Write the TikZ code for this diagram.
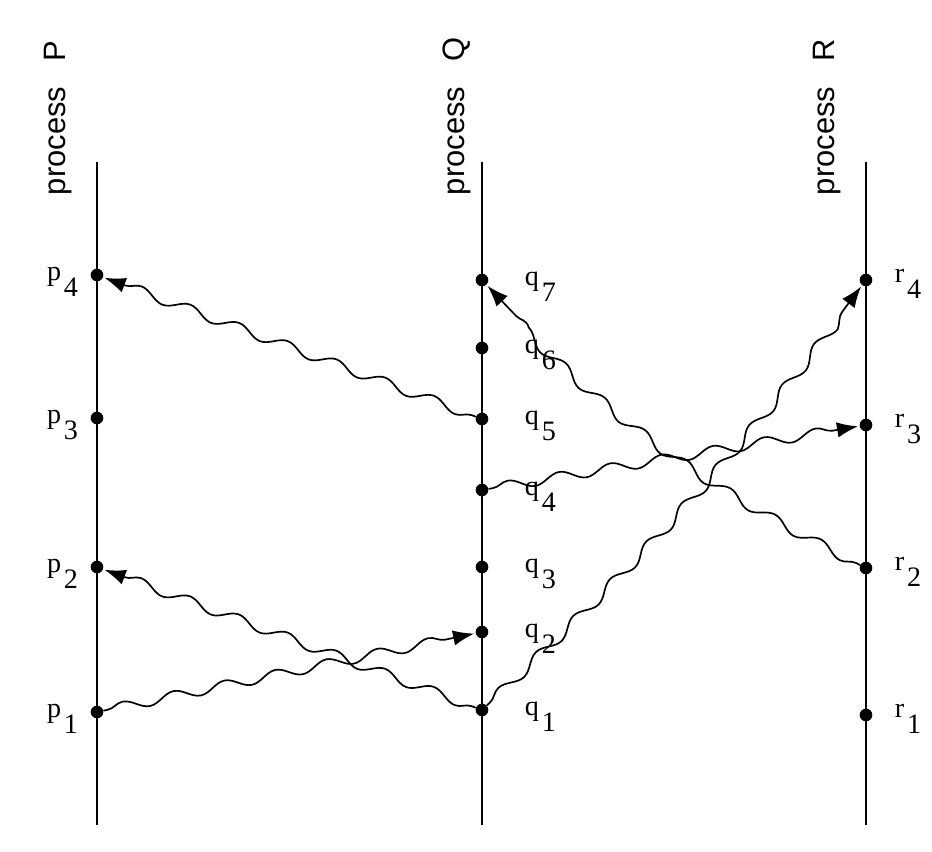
\documentclass[tikz,border=0pt]{standalone}
\usepackage{fontspec}
\setmainfont{Liberation Serif}
\newfontfamily\procfont{Liberation Sans}
\usetikzlibrary{arrows.meta,decorations.pathmorphing,positioning}

% event name with a lowered index
\newcommand{\evname}[2]{#1\hspace{2pt}\raisebox{-11pt}{#2}}

\tikzset{
  >={Latex[length=15pt,width=11pt]},
  event/.style={circle, fill, inner sep=0pt, minimum size=9pt},
  procline/.style={line width=1.5pt},
  msg/.style={->, line width=1.2pt, shorten >=1pt, decorate,
    decoration={snake, amplitude=3.5pt, segment length=37pt,
      pre length=3pt, post length=16pt}},
  evfont/.style={font=\fontsize{20}{22}\selectfont},
  plabel/.style={evfont, anchor=base east, xshift=-10pt, yshift=-4pt},
  qlabel/.style={evfont, anchor=base west, xshift=27pt, yshift=-4pt},
  rlabel/.style={evfont, anchor=base west, xshift=17pt, yshift=-2pt},
  proctitle/.style={rotate=90, anchor=base west,
    font=\procfont\fontsize{22}{24}\selectfont}
}

\begin{document}
\begin{tikzpicture}[x=0.025cm, y=-0.025cm]
  \useasboundingbox (0,0) rectangle (932,852);

  % process titles
  \node[proctitle] (tP) at (65,200) {process\hspace{0.8em}P};
  \node[proctitle] (tQ) at (464,200) {process\hspace{0.8em}Q};
  \node[proctitle] (tR) at (834,200) {process\hspace{0.8em}R};

  % time lines
  \coordinate (Ptop) at (97,162);
  \coordinate (Pbot) at (97,825);
  \coordinate (Qtop) at (482,162);
  \coordinate (Qbot) at (482,825);
  \coordinate (Rtop) at (866,162);
  \coordinate (Rbot) at (866,825);
  \draw[procline] (Ptop) -- (Pbot);
  \draw[procline] (Qtop) -- (Qbot);
  \draw[procline] (Rtop) -- (Rbot);

  % events of P
  \node[event] (p1) at (97,712) {};
  \node[event] (p2) at (97,567) {};
  \node[event] (p3) at (97,418) {};
  \node[event] (p4) at (97,275) {};

  % events of Q
  \node[event] (q1) at (482,710) {};
  \node[event] (q2) at (482,632) {};
  \node[event] (q3) at (482,567) {};
  \node[event] (q4) at (482,490) {};
  \node[event] (q5) at (482,419) {};
  \node[event] (q6) at (482,348) {};
  \node[event] (q7) at (482,280) {};

  % events of R
  \node[event] (r1) at (866,715) {};
  \node[event] (r2) at (866,568) {};
  \node[event] (r3) at (866,425) {};
  \node[event] (r4) at (866,280) {};

  % labels
  \node[plabel] at (p1) {\evname{p}{1}};
  \node[plabel] at (p2) {\evname{p}{2}};
  \node[plabel] at (p3) {\evname{p}{3}};
  \node[plabel] at (p4) {\evname{p}{4}};

  \node[qlabel] at (q1) {\evname{q}{1}};
  \node[qlabel] at (q2) {\evname{q}{2}};
  \node[qlabel] at (q3) {\evname{q}{3}};
  \node[qlabel] at (q4) {\evname{q}{4}};
  \node[qlabel] at (q5) {\evname{q}{5}};
  \node[qlabel] at (q6) {\evname{q}{6}};
  \node[qlabel] at (q7) {\evname{q}{7}};

  \node[rlabel] at (r1) {\evname{r}{1}};
  \node[rlabel] at (r2) {\evname{r}{2}};
  \node[rlabel] at (r3) {\evname{r}{3}};
  \node[rlabel] at (r4) {\evname{r}{4}};

  % messages
  \path (p1) edge[msg] (q2)
        (q1) edge[msg] (p2)
        (q5) edge[msg] (p4)
        (q1) edge[msg, bend right=5] (r4)
        (q4) edge[msg] (r3)
        (r2) edge[msg, bend left=10] (q7);
\end{tikzpicture}
\end{document}
